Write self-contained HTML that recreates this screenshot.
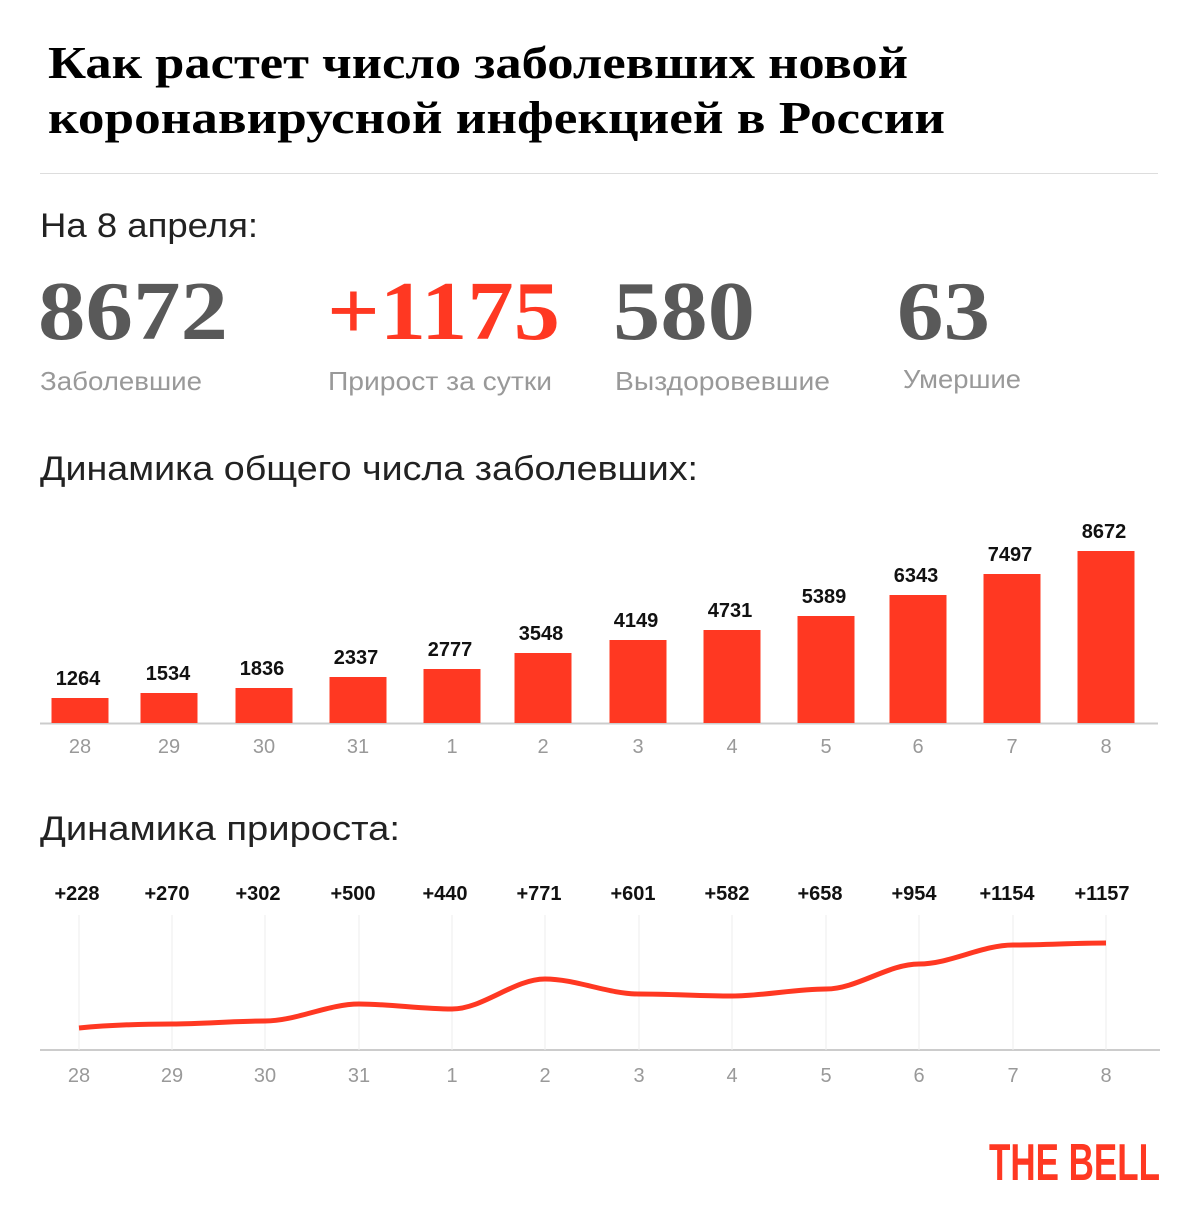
<!DOCTYPE html>
<html><head><meta charset="utf-8"><style>
html,body{margin:0;padding:0;background:#fff;}
svg{display:block}
.t{font-family:"Liberation Serif",serif;font-weight:bold;fill:#000}
.s{font-family:"Liberation Sans",sans-serif}
</style></head><body>
<svg width="1200" height="1220" viewBox="0 0 1200 1220" xmlns="http://www.w3.org/2000/svg">
<text class="t" x="48" y="78" font-size="46" textLength="860" lengthAdjust="spacingAndGlyphs">Как растет число заболевших новой</text>
<text class="t" x="48" y="133" font-size="46" textLength="897" lengthAdjust="spacingAndGlyphs">коронавирусной инфекцией в России</text>
<line x1="40" y1="173.5" x2="1158" y2="173.5" stroke="#ddd" stroke-width="1"/>
<text class="s" x="40" y="237" font-size="34" fill="#222" textLength="218" lengthAdjust="spacingAndGlyphs">На 8 апреля:</text>
<g class="t" font-size="84">
<text x="38" y="339" fill="#595959" textLength="190" lengthAdjust="spacingAndGlyphs">8672</text>
<text x="327" y="339" fill="#ff3822" textLength="233" lengthAdjust="spacingAndGlyphs">+1175</text>
<text x="613" y="339" fill="#595959" textLength="142" lengthAdjust="spacingAndGlyphs">580</text>
<text x="897" y="339" fill="#595959" textLength="93" lengthAdjust="spacingAndGlyphs">63</text>
</g>
<g class="s" font-size="26" fill="#999">
<text x="40" y="390" textLength="162" lengthAdjust="spacingAndGlyphs">Заболевшие</text>
<text x="328" y="390" textLength="224" lengthAdjust="spacingAndGlyphs">Прирост за сутки</text>
<text x="615" y="390" textLength="215" lengthAdjust="spacingAndGlyphs">Выздоровевшие</text>
<text x="903" y="388" textLength="118" lengthAdjust="spacingAndGlyphs">Умершие</text>
</g>
<text class="s" x="40" y="480" font-size="34" fill="#222" textLength="658" lengthAdjust="spacingAndGlyphs">Динамика общего числа заболевших:</text>
<line x1="40" y1="723.5" x2="1158" y2="723.5" stroke="#ccc" stroke-width="2"/>
<text class="s" x="40" y="840" font-size="34" fill="#222" textLength="360" lengthAdjust="spacingAndGlyphs">Динамика прироста:</text>
<line x1="40" y1="1050" x2="1160" y2="1050" stroke="#ccc" stroke-width="2"/>
<text x="989" y="1180" font-family="'Liberation Sans Narrow','Liberation Sans',sans-serif" font-weight="bold" font-size="52" fill="#ff3822" textLength="171" lengthAdjust="spacingAndGlyphs">THE BELL</text>
<g class="s" font-size="20" text-anchor="middle">
<rect x="51.5" y="698" width="57" height="25" fill="#ff3822"/>
<rect x="140.5" y="693" width="57" height="30" fill="#ff3822"/>
<rect x="235.5" y="688" width="57" height="35" fill="#ff3822"/>
<rect x="329.5" y="677" width="57" height="46" fill="#ff3822"/>
<rect x="423.5" y="669" width="57" height="54" fill="#ff3822"/>
<rect x="514.5" y="653" width="57" height="70" fill="#ff3822"/>
<rect x="609.5" y="640" width="57" height="83" fill="#ff3822"/>
<rect x="703.5" y="630" width="57" height="93" fill="#ff3822"/>
<rect x="797.5" y="616" width="57" height="107" fill="#ff3822"/>
<rect x="889.5" y="595" width="57" height="128" fill="#ff3822"/>
<rect x="983.5" y="574" width="57" height="149" fill="#ff3822"/>
<rect x="1077.5" y="551" width="57" height="172" fill="#ff3822"/>
<g fill="#111" font-weight="bold">
<text x="78" y="685">1264</text><text x="168" y="680">1534</text><text x="262" y="675">1836</text><text x="356" y="664">2337</text><text x="450" y="656">2777</text><text x="541" y="640">3548</text><text x="636" y="627">4149</text><text x="730" y="617">4731</text><text x="824" y="603">5389</text><text x="916" y="582">6343</text><text x="1010" y="561">7497</text><text x="1104" y="538">8672</text>
</g>
<g fill="#999">
<text x="80" y="753">28</text><text x="169" y="753">29</text><text x="264" y="753">30</text><text x="358" y="753">31</text><text x="452" y="753">1</text><text x="543" y="753">2</text><text x="638" y="753">3</text><text x="732" y="753">4</text><text x="826" y="753">5</text><text x="918" y="753">6</text><text x="1012" y="753">7</text><text x="1106" y="753">8</text>
</g>
<g stroke="#eee" stroke-width="1">
<line x1="79" y1="915" x2="79" y2="1050"/><line x1="172" y1="915" x2="172" y2="1050"/><line x1="265" y1="915" x2="265" y2="1050"/><line x1="359" y1="915" x2="359" y2="1050"/><line x1="452" y1="915" x2="452" y2="1050"/><line x1="545" y1="915" x2="545" y2="1050"/><line x1="639" y1="915" x2="639" y2="1050"/><line x1="732" y1="915" x2="732" y2="1050"/><line x1="826" y1="915" x2="826" y2="1050"/><line x1="919" y1="915" x2="919" y2="1050"/><line x1="1013" y1="915" x2="1013" y2="1050"/><line x1="1106" y1="915" x2="1106" y2="1050"/>
</g>
<path d="M79,1028 C110,1025 141,1024 172,1024 C203,1024 234,1021 265,1021 C296,1021 328,1004 359,1004 C390,1004 421,1009 452,1009 C483,1009 514,979 545,979 C576,979 608,994 639,994 C670,994 701,996 732,996 C763,996 795,989 826,989 C857,989 888,964 919,964 C950,964 982,945 1013,945 C1044,945 1075,943 1106,943" fill="none" stroke="#ff3822" stroke-width="5"/>
<g fill="#111" font-weight="bold">
<text x="77" y="900">+228</text><text x="167" y="900">+270</text><text x="258" y="900">+302</text><text x="353" y="900">+500</text><text x="445" y="900">+440</text><text x="539" y="900">+771</text><text x="633" y="900">+601</text><text x="727" y="900">+582</text><text x="820" y="900">+658</text><text x="914" y="900">+954</text><text x="1007" y="900">+1154</text><text x="1102" y="900">+1157</text>
</g>
<g fill="#999">
<text x="79" y="1082">28</text><text x="172" y="1082">29</text><text x="265" y="1082">30</text><text x="359" y="1082">31</text><text x="452" y="1082">1</text><text x="545" y="1082">2</text><text x="639" y="1082">3</text><text x="732" y="1082">4</text><text x="826" y="1082">5</text><text x="919" y="1082">6</text><text x="1013" y="1082">7</text><text x="1106" y="1082">8</text>
</g>
</g>
</svg>
</body></html>
